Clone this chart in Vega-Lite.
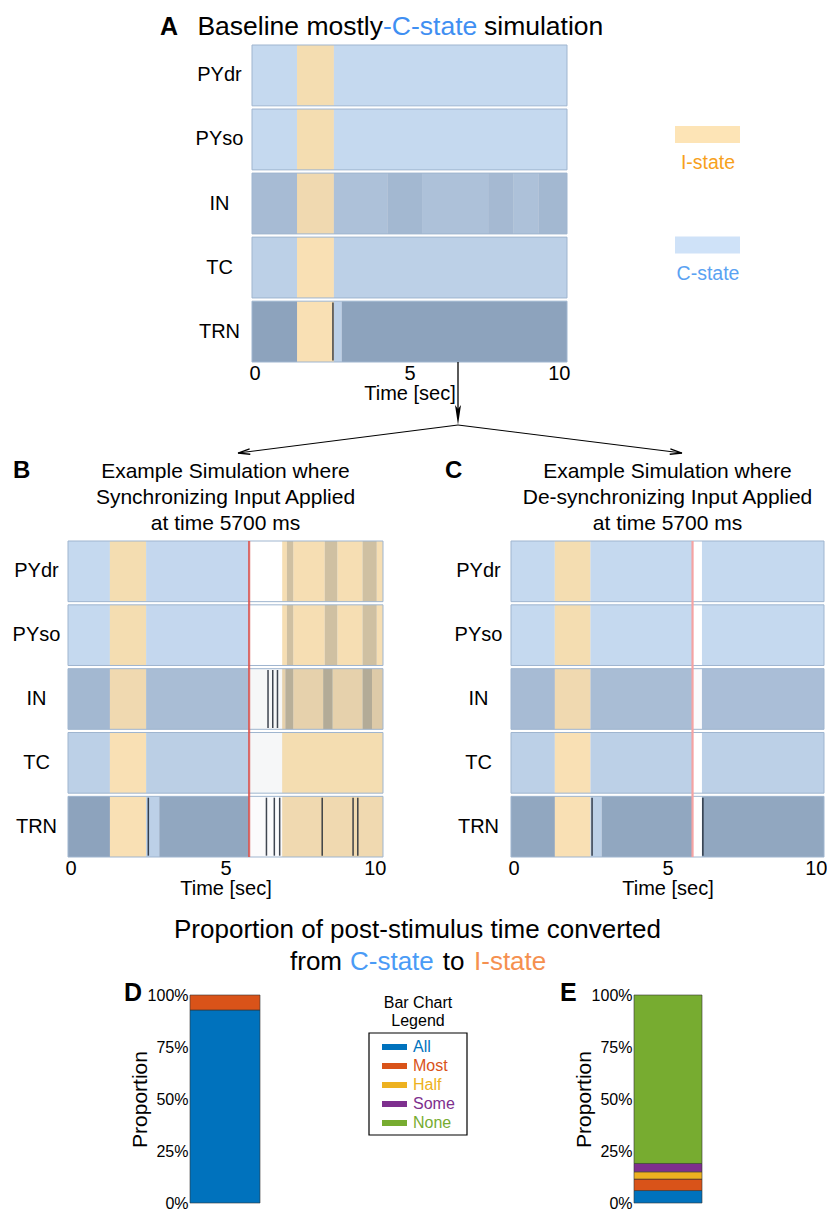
{
  "$schema": "https://vega.github.io/schema/vega-lite/v6.json",
  "padding": 0,
  "background": "white",
  "datasets": {
    "seg": [
      {"p":"A","pop":"PYdr","t0":0,"t1":1.43,"s":"C","a":0.05},
      {"p":"A","pop":"PYdr","t0":1.43,"t1":2.6,"s":"I","a":0.04},
      {"p":"A","pop":"PYdr","t0":2.6,"t1":10,"s":"C","a":0.05},
      {"p":"A","pop":"PYso","t0":0,"t1":1.43,"s":"C","a":0.05},
      {"p":"A","pop":"PYso","t0":1.43,"t1":2.6,"s":"I","a":0.04},
      {"p":"A","pop":"PYso","t0":2.6,"t1":10,"s":"C","a":0.05},
      {"p":"A","pop":"IN","t0":0,"t1":1.43,"s":"C","a":0.22},
      {"p":"A","pop":"IN","t0":1.43,"t1":2.6,"s":"I","a":0.06},
      {"p":"A","pop":"IN","t0":2.6,"t1":4.3,"s":"C","a":0.19},
      {"p":"A","pop":"IN","t0":4.3,"t1":5.4,"s":"C","a":0.24},
      {"p":"A","pop":"IN","t0":5.4,"t1":7.5,"s":"C","a":0.19},
      {"p":"A","pop":"IN","t0":7.5,"t1":8.3,"s":"C","a":0.23},
      {"p":"A","pop":"IN","t0":8.3,"t1":9.1,"s":"C","a":0.19},
      {"p":"A","pop":"IN","t0":9.1,"t1":10,"s":"C","a":0.24},
      {"p":"A","pop":"TC","t0":0,"t1":1.43,"s":"C","a":0.1},
      {"p":"A","pop":"TC","t0":1.43,"t1":2.6,"s":"I","a":0.02},
      {"p":"A","pop":"TC","t0":2.6,"t1":10,"s":"C","a":0.1},
      {"p":"A","pop":"TRN","t0":0,"t1":1.43,"s":"C","a":0.36},
      {"p":"A","pop":"TRN","t0":1.43,"t1":2.6,"s":"I","a":0.02},
      {"p":"A","pop":"TRN","t0":2.6,"t1":2.85,"s":"C","a":0.1},
      {"p":"A","pop":"TRN","t0":2.85,"t1":10,"s":"C","a":0.36},

      {"p":"B","pop":"PYdr","t0":0,"t1":1.33,"s":"C","a":0.05},
      {"p":"B","pop":"PYdr","t0":1.33,"t1":2.48,"s":"I","a":0.04},
      {"p":"B","pop":"PYdr","t0":2.48,"t1":5.75,"s":"C","a":0.06},
      {"p":"B","pop":"PYdr","t0":5.75,"t1":6.8,"s":"N","a":0},
      {"p":"B","pop":"PYdr","t0":6.8,"t1":6.95,"s":"I","a":0.03},
      {"p":"B","pop":"PYdr","t0":6.95,"t1":7.15,"s":"I","a":0.2},
      {"p":"B","pop":"PYdr","t0":7.15,"t1":8.15,"s":"I","a":0.03},
      {"p":"B","pop":"PYdr","t0":8.15,"t1":8.55,"s":"I","a":0.2},
      {"p":"B","pop":"PYdr","t0":8.55,"t1":9.35,"s":"I","a":0.03},
      {"p":"B","pop":"PYdr","t0":9.35,"t1":9.8,"s":"I","a":0.2},
      {"p":"B","pop":"PYdr","t0":9.8,"t1":10,"s":"I","a":0.03},
      {"p":"B","pop":"PYso","t0":0,"t1":1.33,"s":"C","a":0.05},
      {"p":"B","pop":"PYso","t0":1.33,"t1":2.48,"s":"I","a":0.04},
      {"p":"B","pop":"PYso","t0":2.48,"t1":5.75,"s":"C","a":0.06},
      {"p":"B","pop":"PYso","t0":5.75,"t1":6.8,"s":"N","a":0},
      {"p":"B","pop":"PYso","t0":6.8,"t1":6.95,"s":"I","a":0.03},
      {"p":"B","pop":"PYso","t0":6.95,"t1":7.15,"s":"I","a":0.2},
      {"p":"B","pop":"PYso","t0":7.15,"t1":8.15,"s":"I","a":0.03},
      {"p":"B","pop":"PYso","t0":8.15,"t1":8.55,"s":"I","a":0.2},
      {"p":"B","pop":"PYso","t0":8.55,"t1":9.35,"s":"I","a":0.03},
      {"p":"B","pop":"PYso","t0":9.35,"t1":9.8,"s":"I","a":0.2},
      {"p":"B","pop":"PYso","t0":9.8,"t1":10,"s":"I","a":0.03},
      {"p":"B","pop":"IN","t0":0,"t1":1.33,"s":"C","a":0.24},
      {"p":"B","pop":"IN","t0":1.33,"t1":2.48,"s":"I","a":0.06},
      {"p":"B","pop":"IN","t0":2.48,"t1":5.75,"s":"C","a":0.21},
      {"p":"B","pop":"IN","t0":5.75,"t1":6.8,"s":"N","a":0.04},
      {"p":"B","pop":"IN","t0":6.8,"t1":6.9,"s":"I","a":0.1},
      {"p":"B","pop":"IN","t0":6.9,"t1":7.15,"s":"I","a":0.3},
      {"p":"B","pop":"IN","t0":7.15,"t1":8.1,"s":"I","a":0.1},
      {"p":"B","pop":"IN","t0":8.1,"t1":8.4,"s":"I","a":0.32},
      {"p":"B","pop":"IN","t0":8.4,"t1":9.35,"s":"I","a":0.1},
      {"p":"B","pop":"IN","t0":9.35,"t1":9.65,"s":"I","a":0.32},
      {"p":"B","pop":"IN","t0":9.65,"t1":10,"s":"I","a":0.14},
      {"p":"B","pop":"TC","t0":0,"t1":1.33,"s":"C","a":0.1},
      {"p":"B","pop":"TC","t0":1.33,"t1":2.48,"s":"I","a":0.02},
      {"p":"B","pop":"TC","t0":2.48,"t1":5.75,"s":"C","a":0.11},
      {"p":"B","pop":"TC","t0":5.75,"t1":6.8,"s":"N","a":0.04},
      {"p":"B","pop":"TC","t0":6.8,"t1":10,"s":"I","a":0.04},
      {"p":"B","pop":"TRN","t0":0,"t1":1.33,"s":"C","a":0.36},
      {"p":"B","pop":"TRN","t0":1.33,"t1":2.48,"s":"I","a":0.02},
      {"p":"B","pop":"TRN","t0":2.48,"t1":2.9,"s":"C","a":0.1},
      {"p":"B","pop":"TRN","t0":2.9,"t1":5.75,"s":"C","a":0.34},
      {"p":"B","pop":"TRN","t0":5.75,"t1":6.8,"s":"N","a":0.02},
      {"p":"B","pop":"TRN","t0":6.8,"t1":10,"s":"I","a":0.06},

      {"p":"C","pop":"PYdr","t0":0,"t1":1.4,"s":"C","a":0.05},
      {"p":"C","pop":"PYdr","t0":1.4,"t1":2.54,"s":"I","a":0.04},
      {"p":"C","pop":"PYdr","t0":2.54,"t1":5.8,"s":"C","a":0.05},
      {"p":"C","pop":"PYdr","t0":5.8,"t1":6.1,"s":"N","a":0},
      {"p":"C","pop":"PYdr","t0":6.1,"t1":10,"s":"C","a":0.05},
      {"p":"C","pop":"PYso","t0":0,"t1":1.4,"s":"C","a":0.05},
      {"p":"C","pop":"PYso","t0":1.4,"t1":2.54,"s":"I","a":0.04},
      {"p":"C","pop":"PYso","t0":2.54,"t1":5.8,"s":"C","a":0.05},
      {"p":"C","pop":"PYso","t0":5.8,"t1":6.1,"s":"N","a":0},
      {"p":"C","pop":"PYso","t0":6.1,"t1":10,"s":"C","a":0.05},
      {"p":"C","pop":"IN","t0":0,"t1":1.4,"s":"C","a":0.22},
      {"p":"C","pop":"IN","t0":1.4,"t1":2.54,"s":"I","a":0.06},
      {"p":"C","pop":"IN","t0":2.54,"t1":5.8,"s":"C","a":0.21},
      {"p":"C","pop":"IN","t0":5.8,"t1":6.1,"s":"N","a":0.02},
      {"p":"C","pop":"IN","t0":6.1,"t1":10,"s":"C","a":0.2},
      {"p":"C","pop":"TC","t0":0,"t1":1.4,"s":"C","a":0.1},
      {"p":"C","pop":"TC","t0":1.4,"t1":2.54,"s":"I","a":0.02},
      {"p":"C","pop":"TC","t0":2.54,"t1":5.8,"s":"C","a":0.1},
      {"p":"C","pop":"TC","t0":5.8,"t1":6.1,"s":"N","a":0},
      {"p":"C","pop":"TC","t0":6.1,"t1":10,"s":"C","a":0.1},
      {"p":"C","pop":"TRN","t0":0,"t1":1.4,"s":"C","a":0.34},
      {"p":"C","pop":"TRN","t0":1.4,"t1":2.54,"s":"I","a":0.02},
      {"p":"C","pop":"TRN","t0":2.54,"t1":2.9,"s":"C","a":0.1},
      {"p":"C","pop":"TRN","t0":2.9,"t1":5.8,"s":"C","a":0.34},
      {"p":"C","pop":"TRN","t0":5.8,"t1":6.1,"s":"N","a":0},
      {"p":"C","pop":"TRN","t0":6.1,"t1":10,"s":"C","a":0.34}
    ],
    "spk": [
      {"p":"A","pop":"TRN","t":2.57},
      {"p":"B","pop":"TRN","t":2.55},
      {"p":"B","pop":"TRN","t":6.3},
      {"p":"B","pop":"TRN","t":6.55},
      {"p":"B","pop":"TRN","t":6.72},
      {"p":"B","pop":"TRN","t":8.07},
      {"p":"B","pop":"TRN","t":9.05},
      {"p":"B","pop":"TRN","t":9.2},
      {"p":"B","pop":"IN","t":6.35},
      {"p":"B","pop":"IN","t":6.5},
      {"p":"B","pop":"IN","t":6.65},
      {"p":"C","pop":"TRN","t":2.59},
      {"p":"C","pop":"TRN","t":6.13}
    ],
    "stim": [
      {"p":"B","t":5.75},
      {"p":"C","t":5.8}
    ],
    "bars": [
      {"panel":"D","cat":"All","k":1,"v":0.928},
      {"panel":"D","cat":"Most","k":2,"v":0.072},
      {"panel":"D","cat":"Half","k":3,"v":0},
      {"panel":"D","cat":"Some","k":4,"v":0},
      {"panel":"D","cat":"None","k":5,"v":0},
      {"panel":"E","cat":"All","k":1,"v":0.06},
      {"panel":"E","cat":"Most","k":2,"v":0.055},
      {"panel":"E","cat":"Half","k":3,"v":0.035},
      {"panel":"E","cat":"Some","k":4,"v":0.04},
      {"panel":"E","cat":"None","k":5,"v":0.81}
    ]
  },
  "spacing": 0,
  "bounds": "full",
  "resolve": {"scale": {"color": "independent", "opacity": "independent"}},
  "vconcat": [
    {
      "spacing": 0, "bounds": "flush",
      "resolve": {"scale": {"color": "independent", "opacity": "independent"}},
      "hconcat": [
        {"width": 252, "height": 317, "data": {"values": [{}]},
         "mark": {"type": "rect", "fillOpacity": 0, "strokeOpacity": 0},
         "encoding": {"x": {"value": 0}, "x2": {"value": 252}, "y": {"value": -45}, "y2": {"value": 412}}},
        {
          "width": 315, "height": 317,
          "data": {"name": "seg"},
          "transform": [{"filter": "datum.p == 'A'"}],
          "layer": [
            {"mark": {"type": "rect"},
             "encoding": {
               "x": {"field": "t0", "type": "quantitative", "scale": {"domain": [0, 10], "nice": false, "zero": false},
                     "axis": {"values": [0, 5, 10], "format": "d", "title": "Time [sec]", "labelFontSize": 20, "titleFontSize": 20, "labelPadding": 1, "titlePadding": 0, "labelFlush": true, "labelFlushOffset": 3}},
               "x2": {"field": "t1"},
               "y": {"field": "pop", "type": "nominal", "scale": {"domain": ["PYdr","PYso","IN","TC","TRN"], "paddingInner": 0.05, "paddingOuter": 0},
                     "axis": {"title": null, "labelFontSize": 20, "labelPadding": 33, "labelAlign": "center", "labelBaseline": "middle"}},
               "color": {"field": "s", "type": "nominal", "scale": {"domain": ["C","I","N"], "range": ["#cfe2f8","#fde4b6","#ffffff"]}, "legend": null}
             }},
            {"mark": {"type": "rect", "color": "#1a3456"},
             "encoding": {
               "x": {"field": "t0", "type": "quantitative", "axis": {"values": [0, 5, 10], "format": "d", "title": "Time [sec]", "labelFontSize": 20, "titleFontSize": 20, "labelPadding": 1, "titlePadding": 0, "labelFlush": true, "labelFlushOffset": 3}},
               "x2": {"field": "t1"},
               "y": {"field": "pop", "type": "nominal", "axis": {"title": null, "labelFontSize": 20, "labelPadding": 33, "labelAlign": "center", "labelBaseline": "middle"}},
               "opacity": {"field": "a", "type": "quantitative", "scale": {"domain": [0, 1], "range": [0, 1]}, "legend": null}
             }},
            {"data": {"name": "spk"}, "transform": [{"filter": "datum.p == 'A'"}],
             "mark": {"type": "tick", "orient": "vertical", "thickness": 1.5, "size": 58, "color": "#1d2633", "opacity": 0.85},
             "encoding": {
               "x": {"field": "t", "type": "quantitative", "axis": {"values": [0, 5, 10], "format": "d", "title": "Time [sec]", "labelFontSize": 20, "titleFontSize": 20, "labelPadding": 1, "titlePadding": 0, "labelFlush": true, "labelFlushOffset": 3}},
               "y": {"field": "pop", "type": "nominal", "axis": {"title": null, "labelFontSize": 20, "labelPadding": 33, "labelAlign": "center", "labelBaseline": "middle"}}}},
            {"transform": [{"aggregate": [{"op": "min", "field": "t0", "as": "t0"}, {"op": "max", "field": "t1", "as": "t1"}], "groupby": ["pop"]}],
             "mark": {"type": "rect", "fillOpacity": 0, "stroke": "#9fb5cf", "strokeWidth": 1},
             "encoding": {
               "x": {"field": "t0", "type": "quantitative", "axis": {"values": [0, 5, 10], "format": "d", "title": "Time [sec]", "labelFontSize": 20, "titleFontSize": 20, "labelPadding": 1, "titlePadding": 0, "labelFlush": true, "labelFlushOffset": 3}},
               "x2": {"field": "t1"},
               "y": {"field": "pop", "type": "nominal", "axis": {"title": null, "labelFontSize": 20, "labelPadding": 33, "labelAlign": "center", "labelBaseline": "middle"}}}},
            {"data": {"values": [{}]}, "mark": {"type": "text", "text": "A", "fontSize": 25, "fontWeight": "bold", "align": "left", "baseline": "alphabetic", "x": -92, "y": -10}},
            {"data": {"values": [{}]}, "mark": {"type": "text", "text": "Baseline mostly", "fontSize": 26.5, "align": "right", "baseline": "alphabetic", "x": 131, "y": -10}},
            {"data": {"values": [{}]}, "mark": {"type": "text", "text": "-C-state", "fontSize": 26.5, "align": "left", "baseline": "alphabetic", "x": 131, "y": -10, "color": "#3f8ff2"}},
            {"data": {"values": [{}]}, "mark": {"type": "text", "text": "simulation", "fontSize": 26.5, "align": "left", "baseline": "alphabetic", "x": 232, "y": -10}},
            {"data": {"values": [{}]}, "mark": {"type": "rule", "color": "black", "strokeWidth": 1.3},
             "encoding": {"x": {"value": 206}, "y": {"value": 317}, "x2": {"value": 206}, "y2": {"value": 372}}},
            {"data": {"values": [{}]}, "mark": {"type": "point", "shape": "M0,1L-0.3,-1L0,-0.6L0.3,-1Z", "size": 400, "filled": true, "color": "black", "opacity": 1},
             "encoding": {"x": {"value": 206}, "y": {"value": 370}}},
            {"data": {"values": [{}]}, "mark": {"type": "rule", "color": "black", "strokeWidth": 1.1},
             "encoding": {"x": {"value": 206}, "y": {"value": 380}, "x2": {"value": -14}, "y2": {"value": 408}}},
            {"data": {"values": [{}]}, "mark": {"type": "rule", "color": "black", "strokeWidth": 1.1},
             "encoding": {"x": {"value": 206}, "y": {"value": 380}, "x2": {"value": 430}, "y2": {"value": 408}}},
            {"data": {"values": [{}]}, "mark": {"type": "point", "shape": "M-0.45,-1L0,1L0.45,-1", "size": 144, "filled": false, "color": "black", "strokeWidth": 1.3, "opacity": 1, "angle": 83},
             "encoding": {"x": {"value": -8}, "y": {"value": 407.3}}},
            {"data": {"values": [{}]}, "mark": {"type": "point", "shape": "M-0.45,-1L0,1L0.45,-1", "size": 144, "filled": false, "color": "black", "strokeWidth": 1.3, "opacity": 1, "angle": 277},
             "encoding": {"x": {"value": 424}, "y": {"value": 407.3}}}
          ]
        },
        {"width": 108, "height": 317, "data": {"values": []}, "mark": "point"},
        {
          "width": 65, "height": 317,
          "data": {"values": [{"s": "I-state"}, {"s": "C-state"}]},
          "encoding": {"y": {"field": "s", "type": "nominal", "scale": {"type": "point", "domain": ["I-state", "C-state"], "padding": 0.934, "align": 0.433}, "axis": null}},
          "layer": [
            {"mark": {"type": "tick", "orient": "horizontal", "thickness": 17, "size": 65, "opacity": 1},
             "encoding": {"x": {"value": 32.5}, "color": {"field": "s", "type": "nominal", "scale": {"domain": ["I-state", "C-state"], "range": ["#fde4b6", "#cfe2f8"]}, "legend": null}}},
            {"mark": {"type": "text", "fontSize": 19.5, "align": "center", "baseline": "middle", "dy": 29},
             "encoding": {"x": {"value": 33}, "text": {"field": "s"}, "color": {"field": "s", "type": "nominal", "scale": {"domain": ["I-state", "C-state"], "range": ["#f7a11c", "#5aa2f2"]}, "legend": null}}}
          ],
          "resolve": {"scale": {"color": "independent"}}
        }
      ]
    },
    {
      "spacing": 0, "bounds": "flush",
      "resolve": {"scale": {"color": "independent", "opacity": "independent"}},
      "hconcat": [
        {"width": 68, "height": 316, "data": {"values": [{}]},
         "mark": {"type": "rect", "fillOpacity": 0, "strokeOpacity": 0},
         "encoding": {"x": {"value": 0}, "x2": {"value": 68}, "y": {"value": -84}, "y2": {"value": 369}}},
        {
          "width": 315, "height": 316,
          "data": {"name": "seg"},
          "transform": [{"filter": "datum.p == 'B'"}],
          "layer": [
            {"mark": {"type": "rect"},
             "encoding": {
               "x": {"field": "t0", "type": "quantitative", "scale": {"domain": [0, 10], "nice": false, "zero": false},
                     "axis": {"values": [0, 5, 10], "format": "d", "title": "Time [sec]", "labelFontSize": 20, "titleFontSize": 20, "labelPadding": 1, "titlePadding": 0, "labelFlush": true, "labelFlushOffset": 3}},
               "x2": {"field": "t1"},
               "y": {"field": "pop", "type": "nominal", "scale": {"domain": ["PYdr","PYso","IN","TC","TRN"], "paddingInner": 0.05, "paddingOuter": 0},
                     "axis": {"title": null, "labelFontSize": 20, "labelPadding": 32, "labelAlign": "center", "labelBaseline": "middle"}},
               "color": {"field": "s", "type": "nominal", "scale": {"domain": ["C","I","N"], "range": ["#cfe2f8","#fde4b6","#ffffff"]}, "legend": null}
             }},
            {"mark": {"type": "rect", "color": "#1a3456"},
             "encoding": {
               "x": {"field": "t0", "type": "quantitative", "axis": {"values": [0, 5, 10], "format": "d", "title": "Time [sec]", "labelFontSize": 20, "titleFontSize": 20, "labelPadding": 1, "titlePadding": 0, "labelFlush": true, "labelFlushOffset": 3}},
               "x2": {"field": "t1"},
               "y": {"field": "pop", "type": "nominal", "axis": {"title": null, "labelFontSize": 20, "labelPadding": 32, "labelAlign": "center", "labelBaseline": "middle"}},
               "opacity": {"field": "a", "type": "quantitative", "scale": {"domain": [0, 1], "range": [0, 1]}, "legend": null}
             }},
            {"data": {"name": "spk"}, "transform": [{"filter": "datum.p == 'B'"}],
             "mark": {"type": "tick", "orient": "vertical", "thickness": 1.5, "size": 58, "color": "#1d2633", "opacity": 0.85},
             "encoding": {
               "x": {"field": "t", "type": "quantitative", "axis": {"values": [0, 5, 10], "format": "d", "title": "Time [sec]", "labelFontSize": 20, "titleFontSize": 20, "labelPadding": 1, "titlePadding": 0, "labelFlush": true, "labelFlushOffset": 3}},
               "y": {"field": "pop", "type": "nominal", "axis": {"title": null, "labelFontSize": 20, "labelPadding": 32, "labelAlign": "center", "labelBaseline": "middle"}}}},
            {"transform": [{"aggregate": [{"op": "min", "field": "t0", "as": "t0"}, {"op": "max", "field": "t1", "as": "t1"}], "groupby": ["pop"]}],
             "mark": {"type": "rect", "fillOpacity": 0, "stroke": "#9fb5cf", "strokeWidth": 1},
             "encoding": {
               "x": {"field": "t0", "type": "quantitative", "axis": {"values": [0, 5, 10], "format": "d", "title": "Time [sec]", "labelFontSize": 20, "titleFontSize": 20, "labelPadding": 1, "titlePadding": 0, "labelFlush": true, "labelFlushOffset": 3}},
               "x2": {"field": "t1"},
               "y": {"field": "pop", "type": "nominal", "axis": {"title": null, "labelFontSize": 20, "labelPadding": 32, "labelAlign": "center", "labelBaseline": "middle"}}}},
            {"data": {"name": "stim"}, "transform": [{"filter": "datum.p == 'B'"}],
             "mark": {"type": "rule", "color": "#d9534f", "strokeWidth": 2.2, "opacity": 0.85},
             "encoding": {"x": {"field": "t", "type": "quantitative", "axis": {"values": [0, 5, 10], "format": "d", "title": "Time [sec]", "labelFontSize": 20, "titleFontSize": 20, "labelPadding": 1, "titlePadding": 0, "labelFlush": true, "labelFlushOffset": 3}}}},
            {"data": {"values": [{}]}, "mark": {"type": "text", "text": "B", "fontSize": 24, "fontWeight": "bold", "align": "left", "baseline": "alphabetic", "x": -55, "y": -63}},
            {"data": {"values": [{}]}, "mark": {"type": "text", "text": "Example Simulation where", "fontSize": 21, "align": "center", "baseline": "alphabetic", "x": 157.5, "y": -63}},
            {"data": {"values": [{}]}, "mark": {"type": "text", "text": "Synchronizing Input Applied", "fontSize": 21, "align": "center", "baseline": "alphabetic", "x": 157.5, "y": -37}},
            {"data": {"values": [{}]}, "mark": {"type": "text", "text": "at time 5700 ms", "fontSize": 21, "align": "center", "baseline": "alphabetic", "x": 157.5, "y": -11}}
          ]
        },
        {"width": 128, "height": 316, "data": {"values": []}, "mark": "point"},
        {
          "width": 313, "height": 316,
          "data": {"name": "seg"},
          "transform": [{"filter": "datum.p == 'C'"}],
          "layer": [
            {"mark": {"type": "rect"},
             "encoding": {
               "x": {"field": "t0", "type": "quantitative", "scale": {"domain": [0, 10], "nice": false, "zero": false},
                     "axis": {"values": [0, 5, 10], "format": "d", "title": "Time [sec]", "labelFontSize": 20, "titleFontSize": 20, "labelPadding": 1, "titlePadding": 0, "labelFlush": true, "labelFlushOffset": 3}},
               "x2": {"field": "t1"},
               "y": {"field": "pop", "type": "nominal", "scale": {"domain": ["PYdr","PYso","IN","TC","TRN"], "paddingInner": 0.05, "paddingOuter": 0},
                     "axis": {"title": null, "labelFontSize": 20, "labelPadding": 33, "labelAlign": "center", "labelBaseline": "middle"}},
               "color": {"field": "s", "type": "nominal", "scale": {"domain": ["C","I","N"], "range": ["#cfe2f8","#fde4b6","#ffffff"]}, "legend": null}
             }},
            {"mark": {"type": "rect", "color": "#1a3456"},
             "encoding": {
               "x": {"field": "t0", "type": "quantitative", "axis": {"values": [0, 5, 10], "format": "d", "title": "Time [sec]", "labelFontSize": 20, "titleFontSize": 20, "labelPadding": 1, "titlePadding": 0, "labelFlush": true, "labelFlushOffset": 3}},
               "x2": {"field": "t1"},
               "y": {"field": "pop", "type": "nominal", "axis": {"title": null, "labelFontSize": 20, "labelPadding": 33, "labelAlign": "center", "labelBaseline": "middle"}},
               "opacity": {"field": "a", "type": "quantitative", "scale": {"domain": [0, 1], "range": [0, 1]}, "legend": null}
             }},
            {"data": {"name": "spk"}, "transform": [{"filter": "datum.p == 'C'"}],
             "mark": {"type": "tick", "orient": "vertical", "thickness": 1.5, "size": 58, "color": "#1d2633", "opacity": 0.85},
             "encoding": {
               "x": {"field": "t", "type": "quantitative", "axis": {"values": [0, 5, 10], "format": "d", "title": "Time [sec]", "labelFontSize": 20, "titleFontSize": 20, "labelPadding": 1, "titlePadding": 0, "labelFlush": true, "labelFlushOffset": 3}},
               "y": {"field": "pop", "type": "nominal", "axis": {"title": null, "labelFontSize": 20, "labelPadding": 33, "labelAlign": "center", "labelBaseline": "middle"}}}},
            {"transform": [{"aggregate": [{"op": "min", "field": "t0", "as": "t0"}, {"op": "max", "field": "t1", "as": "t1"}], "groupby": ["pop"]}],
             "mark": {"type": "rect", "fillOpacity": 0, "stroke": "#9fb5cf", "strokeWidth": 1},
             "encoding": {
               "x": {"field": "t0", "type": "quantitative", "axis": {"values": [0, 5, 10], "format": "d", "title": "Time [sec]", "labelFontSize": 20, "titleFontSize": 20, "labelPadding": 1, "titlePadding": 0, "labelFlush": true, "labelFlushOffset": 3}},
               "x2": {"field": "t1"},
               "y": {"field": "pop", "type": "nominal", "axis": {"title": null, "labelFontSize": 20, "labelPadding": 33, "labelAlign": "center", "labelBaseline": "middle"}}}},
            {"data": {"name": "stim"}, "transform": [{"filter": "datum.p == 'C'"}],
             "mark": {"type": "rule", "color": "#f5a3a3", "strokeWidth": 2.2},
             "encoding": {"x": {"field": "t", "type": "quantitative", "axis": {"values": [0, 5, 10], "format": "d", "title": "Time [sec]", "labelFontSize": 20, "titleFontSize": 20, "labelPadding": 1, "titlePadding": 0, "labelFlush": true, "labelFlushOffset": 3}}}},
            {"data": {"values": [{}]}, "mark": {"type": "text", "text": "C", "fontSize": 24, "fontWeight": "bold", "align": "left", "baseline": "alphabetic", "x": -66, "y": -63}},
            {"data": {"values": [{}]}, "mark": {"type": "text", "text": "Example Simulation where", "fontSize": 21, "align": "center", "baseline": "alphabetic", "x": 156.5, "y": -63}},
            {"data": {"values": [{}]}, "mark": {"type": "text", "text": "De-synchronizing Input Applied", "fontSize": 21, "align": "center", "baseline": "alphabetic", "x": 156.5, "y": -37}},
            {"data": {"values": [{}]}, "mark": {"type": "text", "text": "at time 5700 ms", "fontSize": 21, "align": "center", "baseline": "alphabetic", "x": 156.5, "y": -11}}
          ]
        }
      ]
    },
    {
      "spacing": 0, "bounds": "flush",
      "resolve": {"scale": {"color": "independent", "opacity": "independent"}},
      "hconcat": [
        {"width": 190, "height": 208, "data": {"values": [{}]},
         "mark": {"type": "rect", "fillOpacity": 0, "strokeOpacity": 0},
         "encoding": {"x": {"value": 0}, "x2": {"value": 190}, "y": {"value": -85}, "y2": {"value": 208}}},
        {
          "width": 70, "height": 208,
          "data": {"name": "bars"},
          "transform": [{"filter": "datum.panel == 'D' && datum.v > 0"}],
          "layer": [
            {"mark": {"type": "bar", "stroke": "#333333", "strokeWidth": 0.6},
             "encoding": {
               "x": {"field": "panel", "type": "nominal", "scale": {"paddingInner": 0, "paddingOuter": 0}, "axis": null},
               "y": {"field": "v", "type": "quantitative", "stack": "zero", "scale": {"domain": [0, 1], "nice": false},
                     "axis": {"format": ".0%", "values": [0, 0.25, 0.5, 0.75, 1], "title": "Proportion", "labelFontSize": 16, "titleFontSize": 21, "labelPadding": 2, "titlePadding": -3}},
               "color": {"field": "cat", "type": "nominal", "scale": {"domain": ["All","Most","Half","Some","None"], "range": ["#0072BD","#D95319","#EDB120","#7E2F8E","#77AC30"]}, "legend": null},
               "order": {"field": "k", "type": "quantitative"}
             }},
            {"data": {"values": [{}]}, "mark": {"type": "text", "text": "D", "fontSize": 25, "fontWeight": "bold", "align": "left", "baseline": "alphabetic", "x": -66, "y": 6}},
            {"data": {"values": [{}]}, "mark": {"type": "text", "text": "Proportion of post-stimulus time converted", "fontSize": 26, "align": "center", "baseline": "alphabetic", "x": 227.5, "y": -57}},
            {"data": {"values": [{}]}, "mark": {"type": "text", "text": "from", "fontSize": 26, "align": "right", "baseline": "alphabetic", "x": 152, "y": -25}},
            {"data": {"values": [{}]}, "mark": {"type": "text", "text": "C-state", "fontSize": 26, "align": "left", "baseline": "alphabetic", "x": 160, "y": -25, "color": "#4a9bf6"}},
            {"data": {"values": [{}]}, "mark": {"type": "text", "text": "to", "fontSize": 26, "align": "center", "baseline": "alphabetic", "x": 263.5, "y": -25}},
            {"data": {"values": [{}]}, "mark": {"type": "text", "text": "I-state", "fontSize": 26, "align": "left", "baseline": "alphabetic", "x": 284, "y": -25, "color": "#f5904f"}}
          ]
        },
        {"width": 109, "height": 10, "data": {"values": []}, "mark": "point"},
        {
          "width": 98, "height": 140,
          "data": {"name": "bars"},
          "transform": [{"filter": "datum.panel == 'E'"}],
          "layer": [
            {"data": {"values": [{}]}, "mark": {"type": "rect", "fillOpacity": 0, "stroke": "black", "strokeWidth": 1.2},
             "encoding": {"x": {"value": 0}, "x2": {"value": 98}, "y": {"value": 38}, "y2": {"value": 140}}},
            {"data": {"values": [{}]}, "mark": {"type": "text", "text": "Bar Chart", "fontSize": 16, "align": "center", "baseline": "alphabetic", "x": 49, "y": 13}},
            {"data": {"values": [{}]}, "mark": {"type": "text", "text": "Legend", "fontSize": 16, "align": "center", "baseline": "alphabetic", "x": 49, "y": 31}},
            {"mark": {"type": "tick", "orient": "horizontal", "thickness": 6, "size": 25, "opacity": 1},
             "encoding": {
               "x": {"value": 25.5},
               "y": {"field": "cat", "type": "nominal", "scale": {"type": "point", "domain": ["All","Most","Half","Some","None"], "range": [52, 128], "padding": 0}, "axis": null},
               "color": {"field": "cat", "type": "nominal", "scale": {"domain": ["All","Most","Half","Some","None"], "range": ["#0072BD","#D95319","#EDB120","#7E2F8E","#77AC30"]}, "legend": null}}},
            {"mark": {"type": "text", "fontSize": 16, "align": "left", "baseline": "middle"},
             "encoding": {
               "x": {"value": 44},
               "y": {"field": "cat", "type": "nominal", "scale": {"type": "point", "domain": ["All","Most","Half","Some","None"], "range": [52, 128], "padding": 0}, "axis": null},
               "text": {"field": "cat"},
               "color": {"field": "cat", "type": "nominal", "scale": {"domain": ["All","Most","Half","Some","None"], "range": ["#0072BD","#D95319","#EDB120","#7E2F8E","#77AC30"]}, "legend": null}}}
          ]
        },
        {"width": 167, "height": 10, "data": {"values": []}, "mark": "point"},
        {
          "width": 68, "height": 208,
          "data": {"name": "bars"},
          "transform": [{"filter": "datum.panel == 'E' && datum.v > 0"}],
          "layer": [
            {"mark": {"type": "bar", "stroke": "#333333", "strokeWidth": 0.6},
             "encoding": {
               "x": {"field": "panel", "type": "nominal", "scale": {"paddingInner": 0, "paddingOuter": 0}, "axis": null},
               "y": {"field": "v", "type": "quantitative", "stack": "zero", "scale": {"domain": [0, 1], "nice": false},
                     "axis": {"format": ".0%", "values": [0, 0.25, 0.5, 0.75, 1], "title": "Proportion", "labelFontSize": 16, "titleFontSize": 21, "labelPadding": 2, "titlePadding": -3}},
               "color": {"field": "cat", "type": "nominal", "scale": {"domain": ["All","Most","Half","Some","None"], "range": ["#0072BD","#D95319","#EDB120","#7E2F8E","#77AC30"]}, "legend": null},
               "order": {"field": "k", "type": "quantitative"}
             }},
            {"data": {"values": [{}]}, "mark": {"type": "text", "text": "E", "fontSize": 25, "fontWeight": "bold", "align": "left", "baseline": "alphabetic", "x": -74, "y": 6}}
          ]
        }
      ]
    }
  ],
  "config": {
    "font": "Liberation Sans",
    "view": {"stroke": null},
    "axis": {"domain": false, "ticks": false, "grid": false, "labelColor": "#000000", "titleColor": "#000000", "titleFontWeight": "normal", "labelFont": "Liberation Sans", "titleFont": "Liberation Sans"},
    "text": {"font": "Liberation Sans", "color": "#000000"},
    "title": {"font": "Liberation Sans", "fontWeight": "normal", "color": "#000000"}
  }
}
